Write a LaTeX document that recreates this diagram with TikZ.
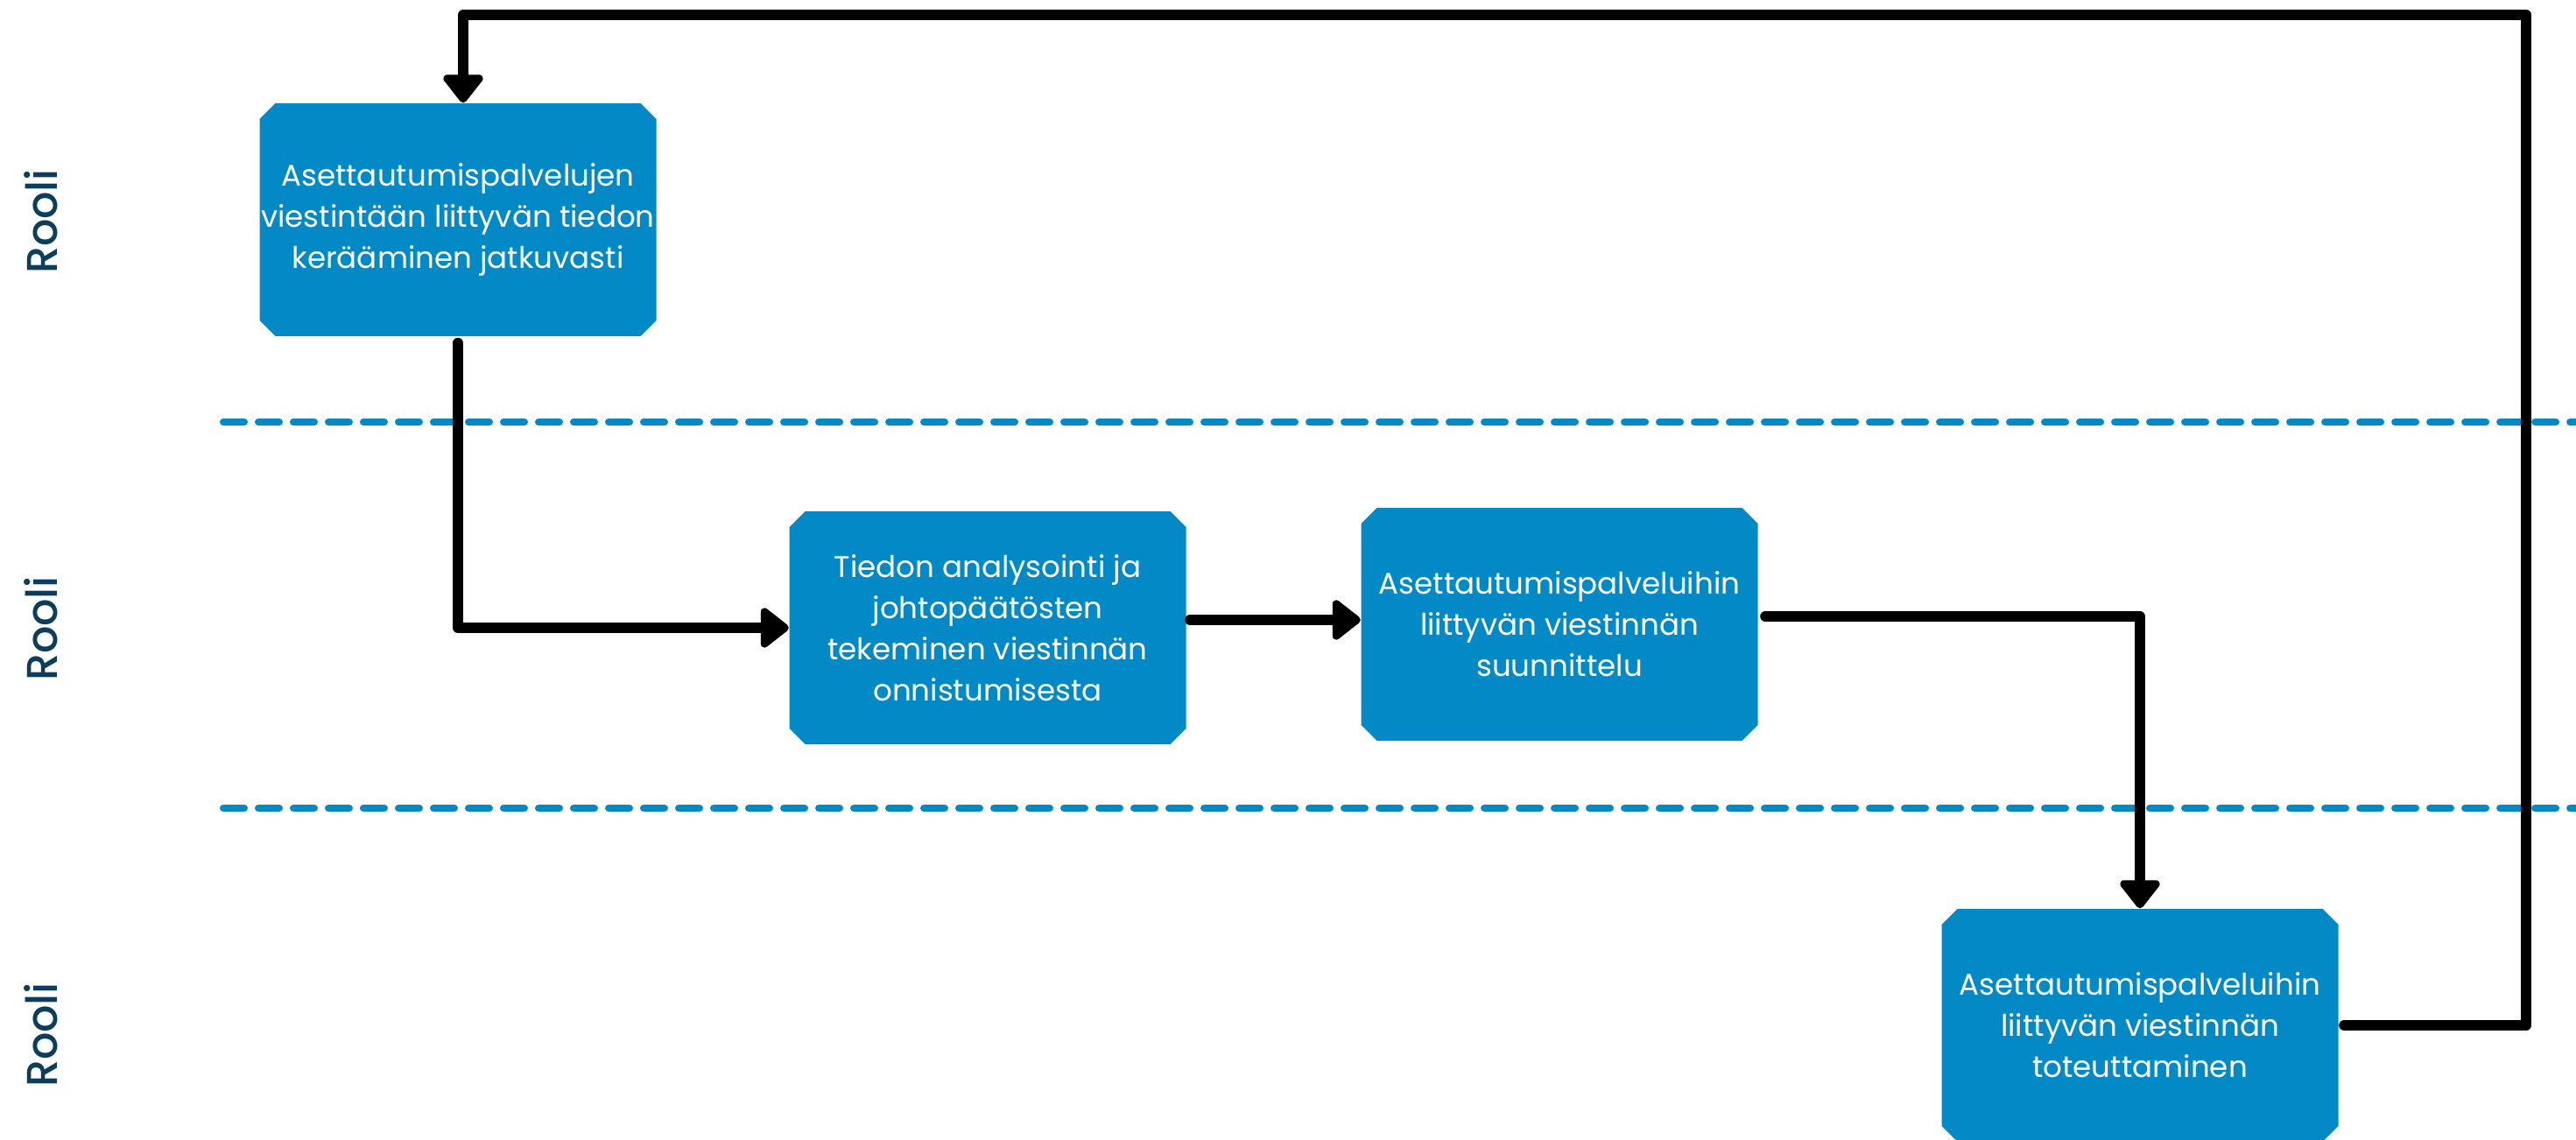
\documentclass[tikz,border=0pt]{standalone}
\usepackage{fontspec}
\setmainfont{Poppins}
\newfontfamily\lanefont{Poppins Medium}
\usetikzlibrary{arrows.meta}
\definecolor{boxblue}{RGB}{3,137,198}
\definecolor{lanenavy}{RGB}{12,62,92}
\newcommand{\lanelabel}[1]{\textcolor{lanenavy}{#1}}
\newcommand{\chamf}{0.18cm}

\begin{document}
\begin{tikzpicture}[
  stepbox/.style={rectangle, draw=none, text=white, align=center, inner sep=0pt,
    minimum width=4.53cm, minimum height=2.66cm,
    font=\fontsize{9.7pt}{13.4pt}\selectfont,
    path picture={\fill[boxblue]
      ([xshift=\chamf]path picture bounding box.south west) --
      ([xshift=-\chamf]path picture bounding box.south east) --
      ([yshift=\chamf]path picture bounding box.south east) --
      ([yshift=-\chamf]path picture bounding box.north east) --
      ([xshift=-\chamf]path picture bounding box.north east) --
      ([xshift=\chamf]path picture bounding box.north west) --
      ([yshift=-\chamf]path picture bounding box.north west) --
      ([yshift=\chamf]path picture bounding box.south west) -- cycle;}},
  flow/.style={line width=0.12cm, line cap=round, line join=round,
    -{Triangle[width=0.52cm,length=0.35cm,round]}},
  lane/.style={boxblue, line width=0.08cm, line cap=round,
    dash pattern=on 0.24cm off 0.16cm}]

  \useasboundingbox (0,0) rectangle (29.42,13.01);

  % lanes
  \draw[lane] (2.55,8.19) -- (29.6,8.19);
  \draw[lane] (2.55,3.78) -- (29.6,3.78);

  \node[rotate=90, font=\lanefont\fontsize{14pt}{16pt}\selectfont] (r1) at (0.47,10.48) {\lanelabel{Rooli}};
  \node[rotate=90, font=\lanefont\fontsize{14pt}{16pt}\selectfont] (r2) at (0.47,5.83) {\lanelabel{Rooli}};
  \node[rotate=90, font=\lanefont\fontsize{14pt}{16pt}\selectfont] (r3) at (0.47,1.19) {\lanelabel{Rooli}};

  % steps
  \node[stepbox] (A) at (5.23,10.50) {Asettautumispalvelujen\\viestintään liittyvän tiedon\\kerääminen jatkuvasti};
  \node[stepbox] (B) at (11.28,5.84) {Tiedon analysointi ja\\johtopäätösten\\tekeminen viestinnän\\onnistumisesta};
  \node[stepbox] (C) at (17.81,5.88) {Asettautumispalveluihin\\liittyvän viestinnän\\suunnittelu};
  \node[stepbox] (D) at (24.44,1.30) {Asettautumispalveluihin\\liittyvän viestinnän\\toteuttaminen};

  \coordinate (back) at (28.85,12.84);

  \draw[flow, shorten <=0.07cm] (A.south) |- (B.west); %% A->B
  \draw[flow, shorten <=0.04cm] ([yshift=0.05cm]C.west -| B.east) -- ([yshift=0.05cm]C.west); %% B->C
  \draw[flow, shorten <=0.08cm] ([yshift=0.09cm]C.east) -| (D.north); %% C->D
  \draw[flow, shorten <=0.06cm] (D.east) -| (back) -| ([xshift=0.06cm]A.north); %% D->A
\end{tikzpicture}
\end{document}
